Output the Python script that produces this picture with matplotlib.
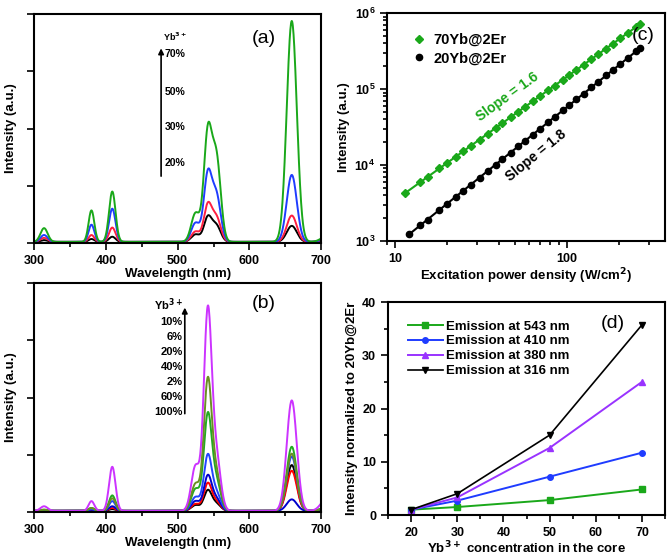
import matplotlib
matplotlib.use('Agg')
import matplotlib.pyplot as plt
import numpy as np
from matplotlib.ticker import MultipleLocator, NullFormatter, LogLocator, FuncFormatter

plt.rcParams['font.family'] = ['Liberation Sans', 'DejaVu Sans']
plt.rcParams['font.weight'] = 'bold'
plt.rcParams['axes.labelweight'] = 'bold'
plt.rcParams['axes.linewidth'] = 1.5
plt.rcParams['mathtext.default'] = 'bf'

# --- emission peaks: centre (nm), width (nm) ---
peak_centres = [314, 380, 409, 525, 542, 554, 659, 708]
peak_widths = [5, 4, 4.5, 6, 5.5, 6, 7, 8]

# panel (a): amplitudes of each peak per Yb3+ content
a_labels = ['70%', '50%', '30%', '20%']
a_colors = ['#1aa81a', '#1f3cff', '#ff1f40', '#000000']
a_amps = [
    [0.24, 0.55, 0.88, 0.50, 1.85, 1.45, 3.86, 0.10],
    [0.12, 0.30, 0.58, 0.33, 1.15, 0.80, 1.17, 0.06],
    [0.07, 0.12, 0.25, 0.18, 0.63, 0.42, 0.46, 0.04],
    [0.03, 0.05, 0.09, 0.13, 0.42, 0.28, 0.28, 0.03],
]

# panel (b)
b_labels = ['10%', '6%', '20%', '40%', '2%', '60%', '100%']
b_colors = ['#cc33ff', '#6b8e23', '#22aa22', '#2244ff', '#0000cc', '#ff0000', '#000000']
b_amps = [
    [0.08, 0.17, 0.77, 0.78, 3.45, 0.90, 1.93, 0.22],
    [0.02, 0.05, 0.22, 0.47, 2.25, 0.60, 1.00, 0.05],
    [0.02, 0.05, 0.27, 0.38, 1.65, 0.50, 1.12, 0.07],
    [0.01, 0.03, 0.17, 0.24, 0.95, 0.30, 0.95, 0.05],
    [0.00, 0.02, 0.08, 0.17, 0.60, 0.20, 0.20, 0.01],
    [0.00, 0.02, 0.05, 0.12, 0.47, 0.15, 0.70, 0.03],
    [0.00, 0.01, 0.03, 0.10, 0.35, 0.12, 0.80, 0.03],
]

# panel (c): power dependence
power = [11.5, 14, 15.5, 18, 20, 22.5, 25, 27.5, 31, 34.5, 38.5, 42, 47, 52, 57,
         63, 70, 77, 85, 94, 103, 113, 125, 138, 152, 168, 185, 204, 225, 250, 265]
i_70yb = [4300, 5950, 6900, 9000, 10500, 12900, 15100, 17900, 21500, 25900, 30500,
          35800, 42300, 50600, 58000, 69500, 81000, 96000, 111000, 132000, 152000,
          179000, 209000, 248000, 287000, 341000, 397000, 468000, 545000, 652000, 712000]
power_20 = [12] + power[1:]
i_20yb = [1230, 1610, 1900, 2550, 3050, 3830, 4580, 5520, 6800, 8350, 10100, 11900,
          14500, 17700, 20700, 25200, 30100, 36400, 43000, 52300, 61100, 73300, 87000,
          105500, 124800, 151000, 178500, 215000, 256000, 312000, 344000]

# panel (d): normalised intensity
yb_conc = [20, 30, 50, 70]
em_543 = [1.0, 1.5, 2.8, 4.8]
em_410 = [1.0, 2.7, 7.2, 11.7]
em_380 = [1.0, 3.3, 12.6, 25.0]
em_316 = [1.0, 4.0, 15.0, 35.7]


def spectrum(wl, amps):
    y = np.full_like(wl, 0.02)
    for c, w, a in zip(peak_centres, peak_widths, amps):
        y += a * np.exp(-(wl - c) ** 2 / (2 * w ** 2))
    return y


def bold_ticks(ax):
    ax.tick_params(which='both', direction='out', width=1.2)
    ax.tick_params(which='major', length=5, labelsize=9)
    ax.tick_params(which='minor', length=3)
    for lab in ax.get_xticklabels() + ax.get_yticklabels():
        lab.set_fontweight('bold')


def style_spectrum_axes(ax):
    ax.set_xlim(300, 700)
    ax.set_ylim(0, 4)
    ax.xaxis.set_major_locator(MultipleLocator(100))
    ax.xaxis.set_minor_locator(MultipleLocator(50))
    ax.yaxis.set_major_locator(MultipleLocator(1))
    ax.yaxis.set_major_formatter(NullFormatter())
    bold_ticks(ax)
    ax.set_xlabel('Wavelength (nm)', fontsize=9.5, labelpad=1)
    ax.set_ylabel('Intensity (a.u.)', fontsize=9.5, labelpad=4)


fig = plt.figure(figsize=(6.71, 5.57), dpi=100)
wl = np.linspace(300, 700, 801)

# (a)
ax_a = fig.add_axes([0.0507, 0.5637, 0.428, 0.411])
for amps, col in zip(a_amps[::-1], a_colors[::-1]):
    ax_a.plot(wl, spectrum(wl, amps), color=col, lw=1.4)
style_spectrum_axes(ax_a)
ax_a.annotate('', xy=(477, 3.45), xytext=(477, 1.12),
              arrowprops=dict(arrowstyle='-|>', color='black', lw=1.2, mutation_scale=8))
ax_a.text(480, 3.6, 'Yb$^{3+}$', fontsize=6.5, va='center')
for lab, yv in zip(a_labels, [3.3, 2.63, 2.03, 1.4]):
    ax_a.text(482, yv, lab, fontsize=7.5, va='center')
ax_a.text(0.80, 0.895, '(a)', transform=ax_a.transAxes, fontsize=14,
          fontweight='normal', ha='center', va='center')

# (b)
ax_b = fig.add_axes([0.0507, 0.0808, 0.428, 0.411])
for amps, col in zip(b_amps[::-1], b_colors[::-1]):
    ax_b.plot(wl, spectrum(wl, amps), color=col, lw=1.4)
style_spectrum_axes(ax_b)
ax_b.annotate('', xy=(510, 3.62), xytext=(510, 1.67),
              arrowprops=dict(arrowstyle='-|>', color='black', lw=1.2, mutation_scale=8))
ax_b.text(507, 3.63, 'Yb$^{3+}$', fontsize=8, ha='right', va='center')
for k, lab in enumerate(b_labels):
    ax_b.text(507, 3.32 - k * 0.262, lab, fontsize=8, ha='right', va='center')
ax_b.text(0.80, 0.91, '(b)', transform=ax_b.transAxes, fontsize=14,
          fontweight='normal', ha='center', va='center')

# (c)
ax_c = fig.add_axes([0.5768, 0.5673, 0.4143, 0.4093])
ax_c.set_xscale('log')
ax_c.set_yscale('log')
for xs, ys, col, mk, lab in [(power, i_70yb, '#1aa81a', 'D', '70Yb@2Er'),
                             (power_20, i_20yb, 'black', 'o', '20Yb@2Er')]:
    lx, ly = np.log10(xs), np.log10(ys)
    k, b = np.polyfit(lx, ly, 1)
    xf = np.array([min(xs), max(xs)])
    ax_c.plot(xf, 10 ** (b + k * np.log10(xf)), color=col, lw=1.5)
    ax_c.plot(xs, ys, mk, color=col, ms=4 if mk == 'D' else 4.5, ls='none', label=lab)
ax_c.set_xlim(9, 370)
ax_c.set_ylim(1e3, 1e6)
ax_c.yaxis.set_major_locator(LogLocator(base=10, numticks=10))
ax_c.xaxis.set_major_formatter(FuncFormatter(lambda v, p: '%d' % v))
bold_ticks(ax_c)
ax_c.set_xlabel('Excitation power density (W/cm$^2$)', fontsize=9.5, labelpad=1)
ax_c.set_ylabel('Intensity (a.u.)', fontsize=9.5, labelpad=3)
ax_c.legend(loc='upper left', bbox_to_anchor=(0.04, 0.97), frameon=False,
            fontsize=10.5, handlelength=1.0, handletextpad=0.5, labelspacing=0.3)
ax_c.text(44.8, 80000, 'Slope = 1.6', color='#1aa81a', fontsize=10,
          rotation=36, ha='center', va='center')
ax_c.text(66, 13500, 'Slope = 1.8', color='black', fontsize=10,
          rotation=39, ha='center', va='center')
ax_c.text(0.92, 0.9, '(c)', transform=ax_c.transAxes, fontsize=14,
          fontweight='normal', ha='center', va='center')

# (d)
ax_d = fig.add_axes([0.5783, 0.0754, 0.4128, 0.3824])
ax_d.plot(yb_conc, em_543, '-s', color='#1aa81a', ms=4, lw=1.4, label='Emission at 543 nm')
ax_d.plot(yb_conc, em_410, '-o', color='#1f3cff', ms=4, lw=1.4, label='Emission at 410 nm')
ax_d.plot(yb_conc, em_380, '-^', color='#9933ff', ms=4.5, lw=1.4, label='Emission at 380 nm')
ax_d.plot(yb_conc, em_316, '-v', color='black', ms=4.5, lw=1.2, label='Emission at 316 nm')
ax_d.set_xlim(15, 75)
ax_d.set_ylim(0, 40)
ax_d.xaxis.set_major_locator(MultipleLocator(10))
ax_d.xaxis.set_minor_locator(MultipleLocator(5))
ax_d.yaxis.set_major_locator(MultipleLocator(10))
ax_d.yaxis.set_minor_locator(MultipleLocator(5))
bold_ticks(ax_d)
ax_d.set_xlabel('Yb$^{3+}$ concentration in the core', fontsize=9.5, labelpad=1)
ax_d.set_ylabel('Intensity normalized to 20Yb@2Er', fontsize=9.5, labelpad=3)
ax_d.legend(loc='upper left', bbox_to_anchor=(0.03, 0.97), frameon=False,
            fontsize=9.5, handlelength=2.6, handletextpad=0.3, labelspacing=0.2)
ax_d.text(0.81, 0.90, '(d)', transform=ax_d.transAxes, fontsize=14,
          fontweight='normal', ha='center', va='center')

fig.savefig('out.png', dpi=100)
